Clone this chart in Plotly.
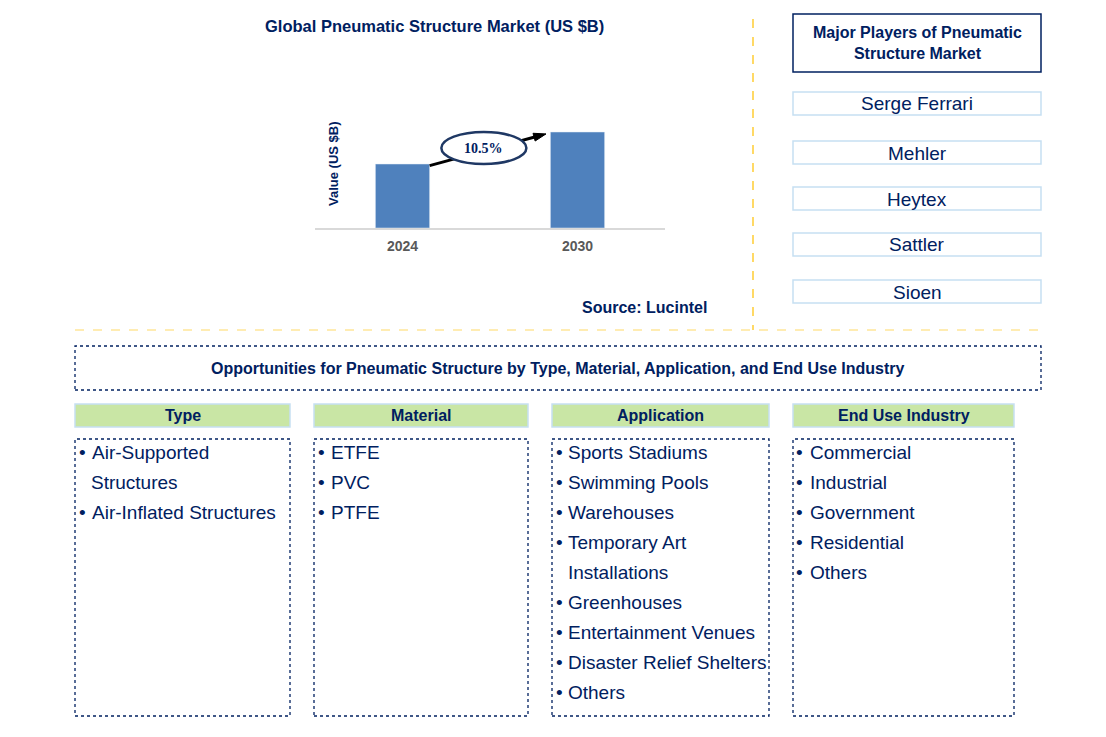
import plotly.graph_objects as go

W, H = 1106, 737
OFF = 8  # page body margin

# data
years = ["2024", "2030"]
market_values = [2.0, 3.0]
cagr_label = "10.5%"

chart_title = "Global Pneumatic Structure Market (US $B)"
y_title = "Value (US $B)"
source_text = "Source: Lucintel"

players_title = "Major Players of Pneumatic<br>Structure Market"
players = ["Serge Ferrari", "Mehler", "Heytex", "Sattler", "Sioen"]

opp_title = "Opportunities for Pneumatic Structure by Type, Material, Application, and End Use Industry"
segments = ["Type", "Material", "Application", "End Use Industry"]
type_items = ["Air-Supported\nStructures", "Air-Inflated Structures"]
material_items = ["ETFE", "PVC", "PTFE"]
application_items = ["Sports Stadiums", "Swimming Pools", "Warehouses",
                     "Temporary Art\nInstallations", "Greenhouses",
                     "Entertainment Venues", "Disaster Relief Shelters", "Others"]
end_use_items = ["Commercial", "Industrial", "Government", "Residential", "Others"]
segment_items = [type_items, material_items, application_items, end_use_items]

navy = "#002060"
font_fam = "Arial, Liberation Sans, sans-serif"


def px(x):
    return (x - OFF) / W


def py(y):
    return 1 - (y - OFF) / H


def label(x, y, text, size, bold=False, anchor="center", color=navy, **kw):
    f = dict(size=size, color=color)
    if bold:
        f["weight"] = "bold"
    return dict(x=px(x), y=py(y), xref="paper", yref="paper", text=text,
                showarrow=False, xanchor=anchor, yanchor="middle", font=f, **kw)


fig = go.Figure()

bar_w = 0.31
xs = list(range(len(years)))
fig.add_trace(go.Bar(x=xs, y=market_values, width=bar_w,
                     marker_color="#4f81bd", hoverinfo="skip"))

# growth arrow from bar to bar
fig.add_trace(go.Scatter(
    x=[xs[0] + bar_w / 2, xs[1] - bar_w / 2 - 0.025],
    y=[market_values[0] - 0.05, market_values[1] - 0.06],
    mode="lines+markers",
    line=dict(color="black", width=3),
    marker=dict(symbol=["circle", "arrow"], size=[0, 13], angleref="previous",
                color="black", opacity=1, line=dict(width=1, color="black")),
    hoverinfo="skip"))

shapes = []
annotations = []

# CAGR ellipse
mid_x = (xs[0] + xs[1]) / 2 - 0.035
mid_y = (market_values[0] + market_values[1]) / 2
shapes.append(dict(type="circle", xref="x", yref="y", layer="above",
                   x0=mid_x - 0.243, x1=mid_x + 0.243, y0=mid_y - 0.5, y1=mid_y + 0.5,
                   fillcolor="white", line=dict(color="#1f3864", width=2.5)))
annotations.append(dict(x=mid_x, y=mid_y, xref="x", yref="y", text=cagr_label,
                        showarrow=False, xanchor="center", yanchor="middle",
                        font=dict(family="Times New Roman, Liberation Serif, serif",
                                  size=14, color=navy, weight="bold")))

annotations.append(label(434, 26, chart_title, 16.5, bold=True))
annotations.append(label(333, 164, y_title, 13, bold=True, textangle=-90))
annotations.append(label(709, 308, source_text, 16, bold=True, anchor="right"))

# separators
shapes.append(dict(type="line", xref="paper", yref="paper", x0=px(753), x1=px(753),
                   y0=py(19), y1=py(330), line=dict(color="#ffc000", width=1.2, dash="dash")))
shapes.append(dict(type="line", xref="paper", yref="paper", x0=px(75), x1=px(1041),
                   y0=py(330), y1=py(330), line=dict(color="#ffd966", width=1.2, dash="dash")))

# major players
shapes.append(dict(type="rect", xref="paper", yref="paper", x0=px(793), x1=px(1041),
                   y0=py(72), y1=py(14), line=dict(color=navy, width=1.5)))
annotations.append(label(917, 43, players_title, 16, bold=True))
player_tops = [92, 141, 187, 233, 280]
for name, top in zip(players, player_tops):
    shapes.append(dict(type="rect", xref="paper", yref="paper", x0=px(793), x1=px(1041),
                       y0=py(top + 23), y1=py(top), line=dict(color="#c6e0f2", width=1.5)))
    annotations.append(label(917, top + 12, name, 19))

# opportunities
shapes.append(dict(type="rect", xref="paper", yref="paper", x0=px(75), x1=px(1041),
                   y0=py(390), y1=py(346), line=dict(color=navy, width=1.3, dash="dot")))
annotations.append(label(558, 368, opp_title, 16, bold=True))

col_x = [(75, 290), (314, 528), (552, 769), (793, 1014)]
for seg, items, (x0, x1) in zip(segments, segment_items, col_x):
    shapes.append(dict(type="rect", xref="paper", yref="paper", x0=px(x0), x1=px(x1),
                       y0=py(427), y1=py(404), fillcolor="#c9e6a5",
                       line=dict(color="#c6e0f2", width=1.5)))
    annotations.append(label((x0 + x1) / 2, 415.5, seg, 16, bold=True))
    shapes.append(dict(type="rect", xref="paper", yref="paper", x0=px(x0), x1=px(x1),
                       y0=py(716), y1=py(439), line=dict(color=navy, width=1.3, dash="dot")))
    row = 0
    for item in items:
        for j, line in enumerate(item.split("\n")):
            yy = 452.5 + 30 * row
            if j == 0:
                annotations.append(label(x0 + 7, yy, "•", 19))
            annotations.append(label(x0 + 14.5 - (1 if j else 0), yy, line, 19, anchor="left"))
            row += 1

fig.update_layout(
    width=W, height=H,
    margin=dict(l=0, r=0, t=0, b=0),
    paper_bgcolor="white",
    plot_bgcolor="white",
    showlegend=False,
    font=dict(family=font_fam, color=navy),
    xaxis=dict(domain=[px(315), px(665)], range=[-0.5, 1.5],
               tickvals=xs, ticktext=years, showgrid=False, zeroline=False,
               showline=True, linecolor="#d9d9d9", linewidth=1.5, ticks="",
               ticklabelstandoff=4,
               tickfont=dict(size=14, color="#595959", weight="bold")),
    yaxis=dict(domain=[py(228), py(100)], range=[0, 4], visible=False),
    shapes=shapes,
    annotations=annotations,
)

fig.write_html("out.html")
